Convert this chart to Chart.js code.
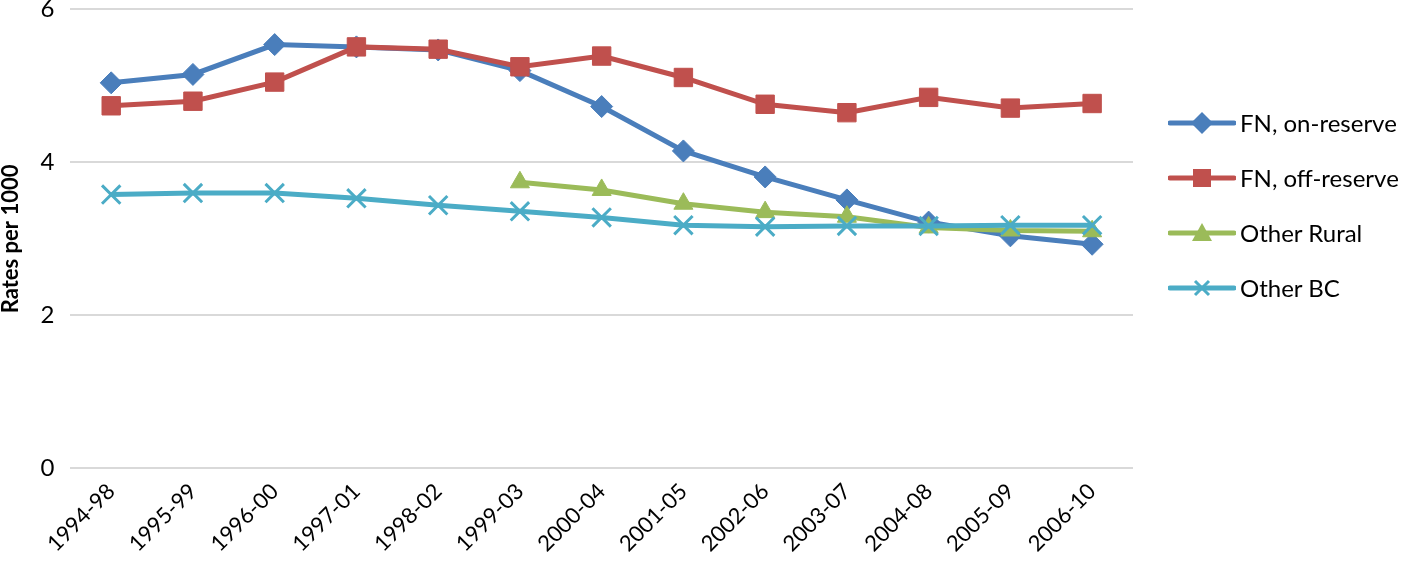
<!DOCTYPE html>
<html lang="en">
  <head>
    <meta charset="UTF-8" />
    <title>Rates per 1000</title>
    <script src="https://cdn.jsdelivr.net/npm/chart.js"></script>
    <style>
      body { margin: 0; background: #fff; font-family: Lato, "Open Sans", sans-serif; overflow: hidden; }
      #wrap { position: relative; width: 1418px; height: 562px; overflow: hidden; }
      #chart { position: absolute; left: -2px; top: -21px; }
      #legend { position: absolute; left: 1168px; top: 95px; }
      .item { display: flex; align-items: center; height: 55px; font-size: 24px; color: #000; white-space: nowrap; }
      .item svg { margin-right: 4px; }
    </style>
  </head>
  <body>
    <div id="wrap">
      <canvas id="chart" width="1420" height="580"></canvas>
      <div id="legend"></div>
    </div>
    <script>
      const periods = ["1994-98", "1995-99", "1996-00", "1997-01", "1998-02", "1999-03", "2000-04",
        "2001-05", "2002-06", "2003-07", "2004-08", "2005-09", "2006-10"];
      const fnOnReserve = [5.04, 5.15, 5.54, 5.51, 5.47, 5.2, 4.73, 4.15, 3.81, 3.51, 3.22, 3.04, 2.93];
      const fnOffReserve = [4.74, 4.8, 5.05, 5.51, 5.48, 5.25, 5.39, 5.11, 4.76, 4.65, 4.85, 4.71, 4.77];
      const otherRural = [null, null, null, null, null, 3.74, 3.64, 3.46, 3.35, 3.29, 3.15, 3.11, 3.1];
      const otherBC = [3.58, 3.6, 3.6, 3.53, 3.44, 3.36, 3.28, 3.18, 3.16, 3.17, 3.17, 3.18, 3.18];
      const yTicks = [0, 2, 4, 6];

      const series = [
        { label: "FN, on-reserve", data: fnOnReserve, color: "#4A7EBB", style: "rectRot", r: 11, order: 4 },
        { label: "FN, off-reserve", data: fnOffReserve, color: "#C0504D", style: "rect", r: 13, order: 3 },
        { label: "Other Rural", data: otherRural, color: "#9BBB59", style: "triangle", r: 11, order: 2 },
        { label: "Other BC", data: otherBC, color: "#4BACC6", style: "crossRot", r: 13, order: 1 },
      ];

      new Chart(document.getElementById("chart"), {
        type: "line",
        data: {
          labels: periods,
          datasets: series.map((s) => ({
            label: s.label,
            data: s.data,
            order: s.order,
            borderColor: s.color,
            backgroundColor: s.color,
            borderWidth: 5,
            pointStyle: s.style,
            pointRadius: s.r,
            pointBorderWidth: s.style === "crossRot" ? 3 : 1,
            pointBorderColor: s.color,
            pointBackgroundColor: s.color,
            tension: 0,
          })),
        },
        options: {
          responsive: false,
          animation: false,
          layout: { autoPadding: false, padding: { top: 0, right: 285, bottom: 0, left: 0 } },
          plugins: { legend: { display: false }, tooltip: { enabled: false } },
          scales: {
            x: {
              offset: true,
              grid: { display: false },
              border: { display: false },
              ticks: {
                color: "#000",
                font: { family: "Lato", size: 22 },
                minRotation: 45,
                maxRotation: 45,
                padding: 2,
              },
            },
            y: {
              min: 0,
              max: 6,
              afterBuildTicks: (axis) => { axis.ticks = yTicks.map((v) => ({ value: v })); },
              grid: { color: "#D9D9D9", lineWidth: 2, drawTicks: false },
              border: { display: false },
              ticks: {
                color: "#000",
                font: { family: "Lato", size: 24 },
                padding: 16,
              },
              title: {
                display: true,
                text: "Rates per 1000",
                color: "#000",
                font: { family: "Lato", size: 22, weight: "bold" },
                padding: 0,
              },
            },
          },
        },
      });

      // legend with line + marker icons
      function icon(s) {
        const c = s.color;
        let m = "";
        if (s.style === "rectRot") m = `<polygon points="34,3 45,14 34,25 23,14" fill="${c}"/>`;
        if (s.style === "rect") m = `<rect x="25" y="5" width="18" height="18" fill="${c}"/>`;
        if (s.style === "triangle") m = `<polygon points="34,4 44,22 24,22" fill="${c}"/>`;
        if (s.style === "crossRot") m = `<path d="M27,7 L41,21 M41,7 L27,21" stroke="${c}" stroke-width="3"/>`;
        return `<svg width="68" height="28"><line x1="2" y1="14" x2="66" y2="14" stroke="${c}" stroke-width="5" stroke-linecap="round"/>${m}</svg>`;
      }
      document.getElementById("legend").innerHTML = series
        .map((s) => `<div class="item">${icon(s)}<span>${s.label}</span></div>`)
        .join("");
    </script>
  </body>
</html>
